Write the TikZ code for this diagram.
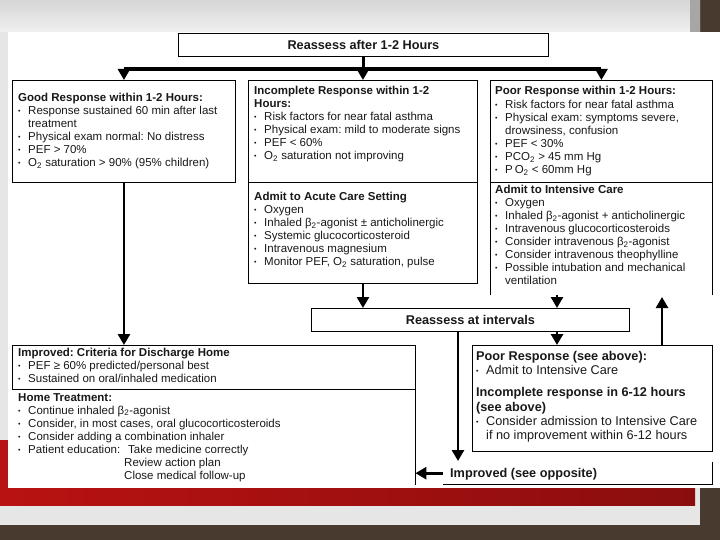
\documentclass[tikz,border=0pt]{standalone}
\usepackage{fontspec}
\setmainfont{Liberation Sans}
\usetikzlibrary{arrows.meta}
\frenchspacing
\newcommand{\itm}{\makebox[10pt][l]{\raisebox{1pt}{\scriptsize\textbullet}}}
\newcommand{\sbt}[1]{\textsubscript{#1}}

\begin{document}
\begin{tikzpicture}[x=1pt, y=-1pt,
    box/.style={draw, line width=0.9pt, inner sep=0pt, anchor=north west},
    frame/.style={inner sep=0pt, anchor=north west},
    edge/.style={line width=0.9pt},
    txt/.style={anchor=north west, align=left, inner sep=0pt, text=ink, yshift=9.1pt,
        execute at begin node=\strut, font=\fontsize{11.5}{13}\selectfont},
    bigtxt/.style={txt, yshift=0.9pt, font=\fontsize{12.7}{14.3}\selectfont},
    head/.style={inner sep=0pt, text=ink, font=\fontsize{12.7}{14.3}\selectfont\bfseries},
    flow/.style={line width=2.6pt, -{Triangle[width=12pt,length=11pt]}},
    bar/.style={line width=3.2pt}]
    \definecolor{ink}{RGB}{25,25,25}
    \definecolor{bgdark}{RGB}{72,58,46}
    \definecolor{panel}{RGB}{230,230,230}
    \definecolor{slidered}{RGB}{185,18,18}
    \useasboundingbox (0,0) rectangle (720,540);
    % slide background
    \fill[bgdark] (0,0) rectangle (720,540);
    \shade[top color=panel!93!black, bottom color=panel!60!white] (0,0) rectangle (700,32);
    \fill[panel] (0,32) rectangle (700,525);
    \fill[gray!70] (690,0) rectangle (700,32);
    \shade[left color=slidered, right color=slidered!75!black] (0,440) rectangle (695,505);
    \fill[white] (8,32) rectangle (720,488);

    % boxes
    \node[box, minimum width=370, minimum height=23] (reassess) at (178,33) {};
    \node[box, minimum width=223, minimum height=102] (good) at (12,80) {};
    \node[box, minimum width=229, minimum height=102] (incomp) at (248,80) {};
    \node[box, minimum width=229, minimum height=101] (acute) at (248,182) {};
    \node[box, minimum width=222, minimum height=102] (poor) at (490,80) {};
    \node[frame, minimum width=222, minimum height=113] (icu) at (490,182) {};
    \node[box, minimum width=318, minimum height=23] (intervals) at (311,308) {};
    \node[frame, minimum width=403, minimum height=44] (disch) at (12,345) {};
    \node[frame, minimum width=403, minimum height=96] (home) at (12,389) {};
    \node[box, minimum width=240, minimum height=106] (seeabove) at (472,345) {};
    \node[frame, minimum width=269, minimum height=22] (improved) at (443,462) {};
    % open edges
    \draw[edge] (icu.south west) |- (icu.north east) -- (icu.south east);
    \draw[edge] (disch.south west) |- (disch.north east) -- (disch.south east);
    \draw[edge] (home.north west) -- (home.north east) -- (home.south east);
    \draw[edge] (improved.south west) -- (improved.south east) -- (improved.north east);

    % headings
    \node[head] (reassesstxt) at (reassess.center) {Reassess after 1-2 Hours};
    \node[head] (intervalstxt) at (intervals.center) {Reassess at intervals};
    \node[head, anchor=base west] (improvedtxt) at (450,477.5) {Improved (see opposite)};

    % box texts (positions are first baselines)
    \node[txt] (goodtxt) at (18,102) {\textbf{Good Response within 1-2 Hours:}\\
        \itm Response sustained 60 min after last\\
        \hspace*{10pt}treatment\\
        \itm Physical exam normal: No distress\\
        \itm PEF > 70\%\\
        \itm O\sbt{2} saturation > 90\% (95\% children)};
    \node[txt] (incomptxt) at (254,95) {\textbf{Incomplete Response within 1-2}\\
        \textbf{Hours:}\\
        \itm Risk factors for near fatal asthma\\
        \itm Physical exam: mild to moderate signs\\
        \itm PEF < 60\%\\
        \itm O\sbt{2} saturation not improving};
    \node[txt] (acutetxt) at (254,201) {\textbf{Admit to Acute Care Setting}\\
        \itm Oxygen\\
        \itm Inhaled β\sbt{2}-agonist ± anticholinergic\\
        \itm Systemic glucocorticosteroid\\
        \itm Intravenous magnesium\\
        \itm Monitor PEF, O\sbt{2} saturation, pulse};
    \node[txt] (poortxt) at (495,95) {\textbf{Poor Response within 1-2 Hours:}\\[1.5pt]
        \itm Risk factors for near fatal asthma\\
        \itm Physical exam: symptoms severe,\\
        \hspace*{10pt}drowsiness, confusion\\
        \itm PEF < 30\%\\
        \itm PCO\sbt{2} > 45 mm Hg\\
        \itm P\,O\sbt{2} < 60mm Hg};
    \node[txt] (icutxt) at (495,194) {\textbf{Admit to Intensive Care}\\
        \itm Oxygen\\
        \itm Inhaled β\sbt{2}-agonist + anticholinergic\\
        \itm Intravenous glucocorticosteroids\\
        \itm Consider intravenous β\sbt{2}-agonist\\
        \itm Consider intravenous theophylline\\
        \itm Possible intubation and mechanical\\
        \hspace*{10pt}ventilation};
    \node[txt] (dischtxt) at (18,357) {\textbf{Improved: Criteria for Discharge Home}\\
        \itm PEF ≥ 60\% predicted/personal best\\
        \itm Sustained on oral/inhaled medication};
    \node[txt] (hometxt) at (18,402) {\textbf{Home Treatment:}\\
        \itm Continue inhaled β\sbt{2}-agonist\\
        \itm Consider, in most cases, oral glucocorticosteroids\\
        \itm Consider adding a combination inhaler\\
        \itm \makebox[100pt][l]{Patient education:}Take medicine correctly\\
        \hspace*{106pt}Review action plan\\
        \hspace*{106pt}Close medical follow-up};
    \node[bigtxt] (seeabovetxt) at (476,361) {\textbf{Poor Response (see above):}\\
        \itm Admit to Intensive Care};
    \node[bigtxt] (sixtwelvetxt) at (476,397.5) {\textbf{Incomplete response in 6-12 hours}\\
        \textbf{(see above)}\\
        \itm Consider admission to Intensive Care\\
        \hspace*{10pt}if no improvement within 6-12 hours};

    % first split
    \path (good.north) ++(0,-11) coordinate (forkL);
    \path (poor.north) ++(0,-11) coordinate (forkR);
    \draw[bar] (forkL) -- (forkR);
    \draw[bar] (reassess.south) -- (reassess.south |- forkL);
    \foreach \b in {good, incomp, poor}{
        \draw[flow] (\b.north |- forkL) -- (\b.north);
    }
    % down to discharge and to intervals
    \draw[flow] (good.south) -- (good.south |- disch.north);
    \draw[flow] (acute.south) -- (acute.south |- intervals.north);
    \coordinate (dn) at (557,295);
    \draw[flow] (dn) -- (dn |- intervals.north);
    \draw[flow] (dn |- intervals.south) -- (dn |- seeabove.north);
    \coordinate (up) at (662,297);
    \draw[flow] (up |- seeabove.north) -- (up);
    \coordinate (impin) at (458,461);
    \draw[flow] (impin |- intervals.south) -- (impin);
    \draw[flow] (improved.west) -- (improved.west -| home.east);
\end{tikzpicture}
\end{document}
